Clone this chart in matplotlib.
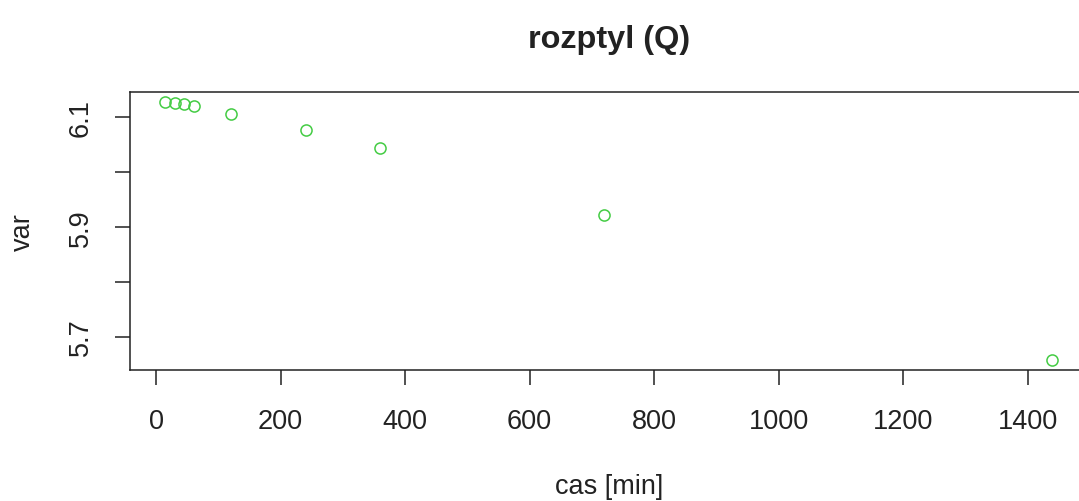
import matplotlib
matplotlib.use("Agg")
import matplotlib.pyplot as plt

# variance of Q over time
cas = [15, 30, 45, 60, 120, 240, 360, 720, 1440]
var = [6.128, 6.126, 6.124, 6.121, 6.106, 6.076, 6.044, 5.922, 5.657]

x_ticks = [0, 200, 400, 600, 800, 1000, 1200, 1400]
y_ticks = [5.7, 5.8, 5.9, 6.0, 6.1]
y_labels = ["5.7", "", "5.9", "", "6.1"]

plt.rcParams["font.family"] = ["Liberation Sans", "DejaVu Sans"]
fs = 19.5

fig = plt.figure(figsize=(10.79, 5.02), dpi=100)
# plot region runs a little past the right edge of the figure
ax = fig.add_axes([0.1205, 0.26, 0.8878, 0.5557])

ax.plot(cas, var, linestyle="none", marker="o", markersize=8,
        markerfacecolor="none", markeredgecolor="#44cc44", markeredgewidth=1.1)

# R-style 4% padding on both axes
xr = max(cas) - min(cas)
yr = max(var) - min(var)
ax.set_xlim(min(cas) - 0.04 * xr, max(cas) + 0.04 * xr)
ax.set_ylim(min(var) - 0.04 * yr, max(var) + 0.04 * yr)

ax.set_xticks(x_ticks)
ax.set_xticklabels([str(t) for t in x_ticks])
ax.set_yticks(y_ticks)
ax.set_yticklabels(y_labels, rotation=90, va="center")

ax.tick_params(axis="both", length=11, width=1.1, labelsize=fs, colors="#222222")
ax.tick_params(axis="x", pad=16)
ax.tick_params(axis="y", pad=15)
for s in ax.spines.values():
    s.set_linewidth(1.1)
    s.set_color("#222222")

fig.text(609 / 1079, 1 - 40 / 502, "rozptyl (Q)", ha="center", va="center",
         fontsize=fs * 1.2, fontweight="bold", color="#222222")
fig.text(609 / 1079, 1 - 487 / 502, "cas [min]", ha="center", va="center",
         fontsize=fs, color="#222222")
fig.text(23 / 1079, 1 - 232 / 502, "var", ha="center", va="center",
         rotation=90, fontsize=fs, color="#222222")

fig.savefig("out.png", dpi=100)
